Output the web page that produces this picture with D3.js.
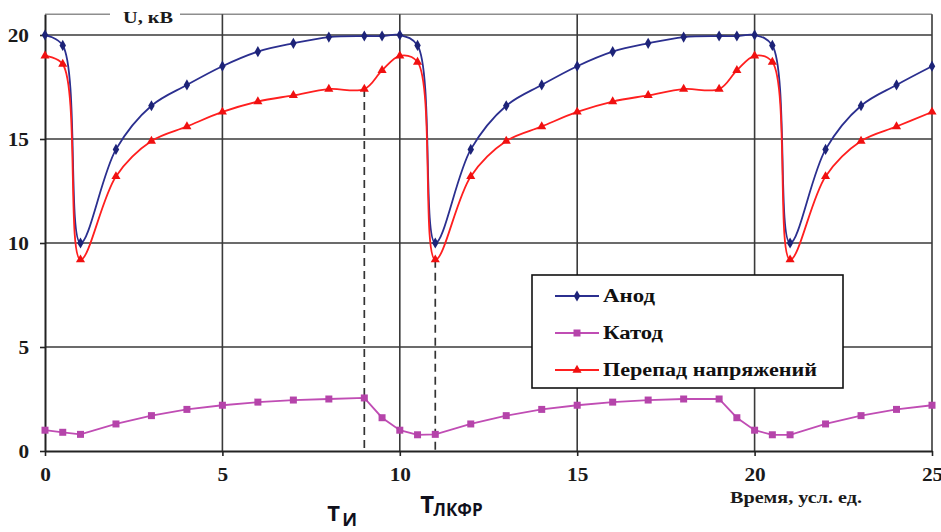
<!DOCTYPE html>
<html><head><meta charset="utf-8">
<script src="https://cdn.jsdelivr.net/npm/d3@7"></script>
<style>body{margin:0;background:#fff}svg{display:block}</style>
</head><body>
<svg id="c" width="941" height="532"></svg>
<script>
// ---- data ----
const time    = [0,0.5,1,2,3,4,5,6,7,8,9,9.5,10,10.5,11,12,13,14,15,16,17,18,19,19.5,20,20.5,21,22,23,24,25];
const anode   = [20,19.5,10,14.5,16.6,17.6,18.5,19.2,19.6,19.9,19.95,19.95,20,19.5,10,14.5,16.6,17.6,18.5,19.2,19.6,19.9,19.95,19.95,20,19.5,10,14.5,16.6,17.6,18.5];
const cathode = [1.0,0.9,0.8,1.3,1.7,2.0,2.2,2.35,2.45,2.5,2.55,1.6,1.0,0.78,0.8,1.3,1.7,2.0,2.2,2.35,2.45,2.5,2.5,1.6,1.0,0.78,0.78,1.3,1.7,2.0,2.2];
const drop    = [19,18.6,9.2,13.2,14.9,15.6,16.3,16.8,17.1,17.4,17.4,18.3,19,18.7,9.2,13.2,14.9,15.6,16.3,16.8,17.1,17.4,17.4,18.3,19,18.7,9.2,13.2,14.9,15.6,16.3];
const seriesNames = ["Анод","Катод","Перепад напряжений"];
const xTicks = [0,5,10,15,20,25];
const yTicks = [0,5,10,15,20];
const yTitle = "U, кВ";
const xTitle = "Время, усл. ед.";
const markTimes = [9, 11];
const markMain = ["T","T"];
const markSub  = ["И","ЛКФР"];

// ---- setup ----
const W = 941, H = 532;
const svg = d3.select("#c");
const serif = "'Liberation Serif','Times New Roman',serif";
const sans = "'Open Sans','Noto Sans',Arial,sans-serif";
const x = d3.scaleLinear().domain([0,25]).range([45,932]);
const y = d3.scaleLinear().domain([0,21]).range([451,451-21*20.8]);

svg.append("rect").attr("width",W).attr("height",H).attr("fill","#fff");

function fit(sel, width){
  sel.each(function(){
    const w = this.getComputedTextLength();
    d3.select(this).attr("textLength", width==null ? w*1.3 : width).attr("lengthAdjust","spacingAndGlyphs");
  });
}

// top border
svg.append("line").attr("x1",x(0)).attr("x2",x(25)).attr("y1",y(21)).attr("y2",y(21))
  .attr("stroke","#8e8e8e").attr("stroke-width",1.5);

// grid
const grid = svg.append("g");
grid.selectAll("line.h").data(yTicks.filter(d=>d>0)).join("line").attr("class","h")
  .attr("x1",x(0)).attr("x2",x(25)).attr("y1",d=>y(d)).attr("y2",d=>y(d))
  .attr("stroke","#3a3a3a").attr("stroke-width",1.6);
grid.selectAll("line.v").data(xTicks.filter(d=>d>0)).join("line").attr("class","v")
  .attr("x1",d=>x(d)).attr("x2",d=>x(d)).attr("y1",y(21)).attr("y2",y(0))
  .attr("stroke","#3a3a3a").attr("stroke-width",1.6);

// axes
const ax = svg.append("g").attr("transform",`translate(0,${y(0)})`)
  .call(d3.axisBottom(x).tickValues(xTicks).tickSize(5).tickSizeOuter(0).tickFormat(d3.format("d")));
const ay = svg.append("g").attr("transform",`translate(${x(0)},0)`)
  .call(d3.axisLeft(y).tickValues(yTicks).tickSize(5).tickSizeOuter(0).tickFormat(d3.format("d")));
[ax,ay].forEach(g=>{
  g.select(".domain").attr("stroke","#222").attr("stroke-width",2);
  g.selectAll(".tick line").attr("stroke","#222").attr("stroke-width",1.6);
  g.selectAll(".tick text").attr("font-family",serif).attr("font-weight","bold")
    .attr("font-size",18.5).attr("fill","#1a1a1a");
});
ay.selectAll(".tick text").each(function(){
  const t = d3.select(this); const w = this.getComputedTextLength()*1.15;
  t.attr("text-anchor","start").attr("x",-16-w).attr("dy","0.34em")
   .attr("textLength",w).attr("lengthAdjust","spacingAndGlyphs");
});
ax.selectAll(".tick text").each(function(){
  const t = d3.select(this); const w = this.getComputedTextLength()*1.15;
  t.attr("text-anchor","start").attr("x",-w/2).attr("y",30).attr("dy",0)
   .attr("textLength",w).attr("lengthAdjust","spacingAndGlyphs");
});

// axis titles
svg.append("rect").attr("x",110).attr("y",y(21)-8).attr("width",70).attr("height",16).attr("fill","#fff");
svg.append("text").attr("x",123).attr("y",23).text(yTitle)
  .attr("font-family",serif).attr("font-weight","bold").attr("font-size",16).attr("fill","#1a1a1a")
  .call(fit,50);
svg.append("text").attr("x",730).attr("y",503).text(xTitle)
  .attr("font-family",serif).attr("font-weight","bold").attr("font-size",16.5).attr("fill","#1a1a1a")
  .call(fit,132);

// dashed markers
const dash = svg.append("g");
markTimes.forEach(t=>{
  const i = time.indexOf(t);
  dash.append("line").attr("x1",x(t)).attr("x2",x(t)).attr("y1",y(drop[i])).attr("y2",y(0))
    .attr("stroke","#333").attr("stroke-width",1.7).attr("stroke-dasharray","8,5");
});

// series
const series = [
  {name:seriesNames[0], vals:anode,   color:"#2b2f8f", mcolor:"#1d2378", sym:d3.symbolDiamond,  size:36, curve:d3.curveCatmullRom.alpha(0.5)},
  {name:seriesNames[1], vals:cathode, color:"#c04db4", mcolor:"#b544aa", sym:d3.symbolSquare,   size:49, curve:d3.curveLinear},
  {name:seriesNames[2], vals:drop,    color:"#ff1f1f", mcolor:"#f01010", sym:d3.symbolTriangle, size:36, curve:d3.curveCatmullRom.alpha(0.5)}
];
series.forEach(s=>{
  const line = d3.line().x((d,i)=>x(time[i])).y(d=>y(d)).curve(s.curve);
  svg.append("path").attr("d",line(s.vals)).attr("fill","none").attr("stroke",s.color).attr("stroke-width",1.8);
});
series.forEach(s=>{
  svg.append("g").selectAll("path").data(s.vals).join("path")
    .attr("transform",(d,i)=>`translate(${x(time[i])},${y(d)})`)
    .attr("d",d3.symbol().type(s.sym).size(s.size)).attr("fill",s.mcolor);
});

// legend
const lg = svg.append("g");
lg.append("rect").attr("x",532).attr("y",275).attr("width",311).attr("height",113)
  .attr("fill","#fff").attr("stroke","#111").attr("stroke-width",1.6);
const legW = [52,60,214];
series.forEach((s,k)=>{
  const cy = 296 + k*37;
  lg.append("line").attr("x1",555).attr("x2",599).attr("y1",cy).attr("y2",cy).attr("stroke",s.color).attr("stroke-width",2);
  lg.append("path").attr("transform",`translate(577,${cy})`).attr("d",d3.symbol().type(s.sym).size(s.size)).attr("fill",s.mcolor);
  lg.append("text").attr("x",603).attr("y",cy+6).text(s.name)
    .attr("font-family",serif).attr("font-weight","bold").attr("font-size",18.5).attr("fill","#111")
    .call(fit,legW[k]);
});

// T labels
const tl = svg.append("g").attr("font-family",sans).attr("font-weight","bold").attr("fill","#10101c");
// T_И
tl.append("text").attr("x",x(markTimes[0])-37).attr("y",521).attr("font-size",22).text(markMain[0]);
tl.append("text").attr("x",x(markTimes[0])-22).attr("y",526).attr("font-size",18).text(markSub[0]);
// T_ЛКФР
tl.append("text").attr("x",x(markTimes[1])-15).attr("y",513).attr("font-size",24).text(markMain[1]);
tl.append("text").attr("x",x(markTimes[1])-2).attr("y",516).attr("font-size",17).text(markSub[1]);
</script>
</body></html>
